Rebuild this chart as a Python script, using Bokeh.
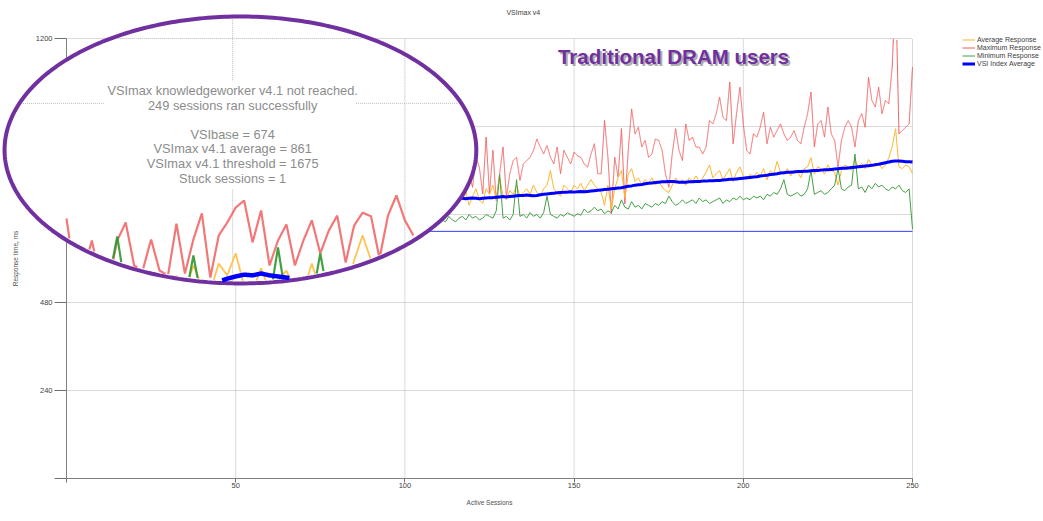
import numpy as np
from bokeh.plotting import figure
from bokeh.models import (FixedTicker, Legend, LegendItem, Label, PolyAnnotation)
from bokeh.embed import file_html
from bokeh.resources import INLINE

# ---------------- data ----------------
sessions = list(range(106, 251))
max_resp = [685, 695, 713, 722, 731, 740, 758, 794, 849, 794, 767,
            813, 776, 831, 794, 876, 849, 776, 931, 776, 895, 758, 831, 904, 767,
            831, 867, 876, 813, 858, 867, 876, 895, 926, 904, 885, 908, 876, 858,
            904, 831, 895, 876, 858, 890, 880, 876, 858, 849, 885, 913, 831, 831,
            976, 876, 722, 876, 822, 954, 749, 895, 1008, 940, 958, 904, 922, 876,
            885, 926, 922, 895, 831, 794, 885, 954, 895, 867, 967, 922, 931, 904,
            904, 885, 904, 976, 967, 995, 1040, 985, 976, 1081, 913, 995, 1067, 967,
            895, 885, 940, 931, 958, 999, 913, 958, 931, 949, 967, 940, 922, 931,
            949, 922, 913, 958, 995, 1054, 904, 967, 976, 931, 1013, 940, 922, 849,
            922, 958, 976, 958, 904, 976, 995, 958, 1094, 1031, 1013, 1067, 995, 1031,
            1022, 1122, 1350, 940, 949, 958, 967, 1122]
avg_resp = [740, 750, 745, 760, 750, 755, 760, 770, 750, 760, 770,
            760, 780, 745, 770, 790, 760, 750, 790, 775, 800, 760, 822, 770, 760,
            785, 775, 800, 770, 780, 790, 775, 800, 780, 770, 790, 800, 840, 790,
            780, 770, 800, 790, 780, 800, 790, 805, 785, 800, 815, 800, 790, 780,
            745, 800, 735, 790, 820, 840, 765, 830, 845, 810, 820, 800, 815, 805,
            820, 800, 810, 795, 785, 780, 800, 820, 805, 815, 800, 820, 810, 825,
            810, 820, 835, 855, 820, 830, 840, 815, 830, 845, 810, 835, 850, 825,
            815, 830, 820, 835, 825, 845, 815, 840, 830, 865, 835, 830, 845, 825,
            840, 835, 820, 845, 850, 875, 830, 850, 845, 830, 855, 840, 835, 800,
            840, 855, 850, 840, 870, 850, 860, 845, 870, 855, 850, 860, 845, 855,
            875, 905, 954, 850, 845, 855, 850, 832]
min_resp = [700, 705, 695, 700, 710, 705, 700, 715, 705, 700, 710,
            715, 705, 720, 710, 715, 705, 710, 720, 715, 710, 730, 830, 710, 715,
            705, 720, 815, 715, 720, 710, 725, 715, 720, 710, 725, 770, 720, 715,
            710, 720, 715, 725, 720, 715, 722, 718, 735, 725, 730, 740, 730, 735,
            722, 730, 725, 745, 735, 760, 740, 735, 755, 740, 745, 735, 750, 745,
            740, 750, 745, 755, 750, 770, 755, 745, 750, 760, 750, 755, 760, 750,
            765, 755, 760, 750, 755, 760, 765, 750, 760, 755, 765, 760, 770, 760,
            765, 760, 770, 765, 770, 760, 775, 770, 780, 775, 790, 815, 775, 770,
            775, 780, 770, 775, 790, 840, 775, 780, 785, 775, 780, 790, 800, 845,
            790, 785, 795, 800, 885, 790, 795, 780, 800, 790, 805, 795, 800, 790,
            785, 795, 790, 800, 785, 780, 790, 680]
vsi_index_avg = [758, 759, 760, 760, 761, 762, 762, 763, 763, 764, 764,
                 764, 763, 764, 765, 764, 763, 764, 765,
                 766, 766, 767, 768, 769, 768, 769, 770, 771, 772,
                 772, 773, 772, 771, 772, 774, 775, 776, 777, 778, 779, 780,
                 781, 781, 782, 781, 782, 783, 782, 783,
                 784, 785, 786, 787, 788, 789, 790, 791, 792, 793,
                 795, 797, 798, 800, 801, 802, 804, 805,
                 806, 807, 808, 809, 809, 810,
                 810, 809, 808, 808, 808,
                 809, 809, 810, 810, 811, 811, 812, 812, 813, 813,
                 814, 815, 816, 816, 817, 818, 819, 820, 821, 822,
                 823, 825, 826, 827, 829, 830, 831, 833,
                 834, 835, 835, 836, 837, 837, 838,
                 838, 839, 840, 840, 841, 842, 842, 843, 844, 845,
                 846, 846, 847, 848, 849, 850, 851, 852, 853, 854,
                 856, 857, 859, 861, 863, 865,
                 866, 866, 865, 864, 864, 863]
vsi_base = 674

# magnified inset (drawn inside the ellipse), values on the main axis scale
inset_sessions = [0, 2.5, 5, 7.5, 10, 12.5, 15, 17.5, 20, 22.5, 25, 27.5, 30, 32.5,
                  35, 37.5, 40, 42.5, 45, 47.5, 50, 52.5, 55, 57.5, 60, 62.5, 65,
                  67.5, 70, 72.5, 75, 77.5, 80, 82.5, 85, 87.5, 90, 92.5, 95, 97.5,
                  100, 102.5]
inset_max = [709, 554, 567, 649, 540, 540, 649, 698, 581, 567, 652, 567, 554, 695,
             559, 652, 723, 548, 663, 698, 739, 758, 644, 731, 581, 649, 693, 581,
             649, 704, 614, 676, 717, 589, 690, 725, 715, 600, 717, 772, 704, 663]
inset_avg = [513, 513, 513, 513, 513, 513, 540, 526, 513, 513, 513, 513, 513, 554,
             513, 581, 526, 513, 586, 554, 614, 526, 513, 573, 513, 540, 567, 513,
             513, 586, 513, 513, 513, 513, 595, 663, 595, 513, 513, 513, 513, 513]
inset_min = [485, 485, 485, 485, 485, 540, 660, 513, 485, 485, 485, 485, 485, 485,
             485, 608, 485, 485, 485, 485, 485, 485, 485, 485, 485, 630, 485, 485,
             485, 485, 614, 485, 485, 485, 485, 485, 485, 485, 485, 485, 485, 485]
inset_index = [524] * 18 + [537, 545, 551, 556, 554, 559, 554, 551, 548, 545, 540, 535] + [529] * 12
inset_grid_x = [49.1, 100]
inset_grid_y = [1023, 1200]

x_ticks = [0, 50, 100, 150, 200, 250]
y_ticks = [0, 240, 480, 720, 960, 1200]

info_lines = ["VSImax knowledgeworker v4.1 not reached.", "249 sessions ran successfully", "",
              "VSIbase = 674", "VSImax v4.1 average = 861", "VSImax v4.1 threshold = 1675",
              "Stuck sessions = 1"]

assert len(sessions) == len(max_resp) == len(avg_resp) == len(min_resp) == len(vsi_index_avg)
assert len(inset_sessions) == len(inset_max) == len(inset_avg) == len(inset_min) == len(inset_index)

# ---------------- styling constants ----------------
FONT = "Liberation Sans"
RED, ORANGE, GREEN, BLUE = "#f05a5a", "#ffb52e", "#44a044", "#0000ff"
PURPLE = "#7030a0"
GRID = "#b4b4b4"
ELL_CX, ELL_CY, ELL_A, ELL_B = 51.4, 896.0, 69.7, 364.0
A_IN, B_IN = 69.0, 357.0
W, H = 1043, 521
X_VIEW = (-19.50, 288.71)     # frame spans the whole canvas so the magnifier can leave the axes
Y_VIEW = (-117.27, 1303.6)

p = figure(width=W, height=H, output_backend="svg", toolbar_location=None, title=None,
           x_range=X_VIEW, y_range=Y_VIEW, min_border=0)
p.outline_line_color = None
p.background_fill_color = "white"
p.border_fill_color = "white"
p.grid.visible = False

# axes drawn at the data origin
p.xaxis.ticker = FixedTicker(ticks=x_ticks)
p.yaxis.ticker = FixedTicker(ticks=y_ticks)
p.xaxis.fixed_location = 0
p.yaxis.fixed_location = 0
p.xaxis.bounds = (x_ticks[0], x_ticks[-1])
p.yaxis.bounds = (y_ticks[0], y_ticks[-1])
p.xaxis.major_label_overrides = {0: ""}
p.yaxis.major_label_overrides = {0: ""}
for ax in (p.xaxis, p.yaxis):
    ax.axis_line_color = "#808080"
    ax.major_tick_line_color = "#707070"
    ax.minor_tick_line_color = None
    ax.major_tick_in = 0
    ax.major_label_text_font = FONT
    ax.major_label_text_font_size = "7.5px"
    ax.major_label_text_color = "#404040"
    ax.axis_label_text_font = FONT
    ax.axis_label_text_font_size = "6.5px"
    ax.axis_label_text_font_style = "normal"
    ax.axis_label_text_color = "#505050"
p.xaxis.major_tick_out = 4
p.yaxis.major_tick_out = 12
p.xaxis.major_label_standoff = 1
p.yaxis.major_label_standoff = 2
p.xaxis.axis_label = "Active Sessions"
p.yaxis.axis_label = "Response time, ms"
p.xaxis.axis_label_standoff = 7
p.yaxis.axis_label_standoff = 14

# dotted grid, bounded to the data area
hy = y_ticks[1:]
vx = x_ticks[1:]
p.segment(x0=[x_ticks[0]] * len(hy), y0=hy, x1=[x_ticks[-1]] * len(hy), y1=hy,
          line_color=GRID, line_dash="1 1", line_width=1, level="underlay")
p.segment(x0=vx, y0=[y_ticks[0]] * len(vx), x1=vx, y1=[y_ticks[-1]] * len(vx),
          line_color=GRID, line_dash="1 1", line_width=1, level="underlay")


def densify(xs, ys, n):
    xs = np.asarray(xs, float)
    ys = np.asarray(ys, float)
    fx, fy = [xs[0]], [ys[0]]
    tt = np.linspace(0, 1, n + 1)[1:]
    for i in range(len(xs) - 1):
        fx.extend(xs[i] + (xs[i + 1] - xs[i]) * tt)
        fy.extend(ys[i] + (ys[i + 1] - ys[i]) * tt)
    return np.array(fx), np.array(fy)


def clip_top(xs, ys, top, n=80):
    fx, fy = densify(xs, ys, n)
    return fx, np.where(fy <= top, fy, np.nan)


def clip_inside(xs, ys, n=40, gap_x=None, gap_y=None):
    fx, fy = densify(xs, ys, n)
    keep = ((fx - ELL_CX) / A_IN) ** 2 + ((fy - ELL_CY) / B_IN) ** 2 <= 1
    if gap_x is not None:
        keep &= ~((fx > gap_x[0]) & (fx < gap_x[1]))
    if gap_y is not None:
        keep &= ~((fy > gap_y[0]) & (fy < gap_y[1]))
    return fx, np.where(keep, fy, np.nan)


# main series (clipped at the top of the value axis like the original chart)
mx, my = clip_top(sessions, max_resp, y_ticks[-1])
r_max = p.line(mx, my, line_color=RED, line_width=1)
r_avg = p.line(sessions, avg_resp, line_color=ORANGE, line_width=1)
r_min = p.line(sessions, min_resp, line_color=GREEN, line_width=1)
r_idx = p.line(sessions, vsi_index_avg, line_color=BLUE, line_width=3)
p.segment(x0=[x_ticks[0]], y0=[vsi_base], x1=[x_ticks[-1]], y1=[vsi_base],
          line_color="#3a3aff", line_width=1)

# magnifier ellipse
t = np.linspace(0, 2 * np.pi, 361)
ell = PolyAnnotation(xs=list(ELL_CX + ELL_A * np.cos(t)), ys=list(ELL_CY + ELL_B * np.sin(t)),
                     fill_color="white", fill_alpha=1.0, line_color=PURPLE, line_alpha=1.0,
                     line_width=4, level="annotation")
p.add_layout(ell)

# inset grid
for gx in inset_grid_x:
    gy = (790, 1085) if gx < 60 else None
    xx, yy = clip_inside([gx, gx], [400, 1300], n=400, gap_y=gy)
    p.line(xx, yy, line_color=GRID, line_dash="1 1", line_width=1, level="overlay")
for gyv in inset_grid_y:
    gxg = (11.5, 85.4) if gyv < 1100 else None
    xx, yy = clip_inside([-25, 130], [gyv, gyv], n=600, gap_x=gxg)
    p.line(xx, yy, line_color=GRID, line_dash="1 1", line_width=1, level="overlay")

# inset (magnified) series
for ys_, col, w, a in ((inset_max, "#f06060", 2.2, 0.85), (inset_avg, "#ffbe3c", 1.8, 0.9),
                       (inset_min, "#2f962f", 2.2, 0.9), (inset_index, BLUE, 4.5, 1.0)):
    xx, yy = clip_inside(inset_sessions, ys_)
    p.line(xx, yy, line_color=col, line_width=w, line_alpha=a, level="overlay")

# texts
INFO_X, INFO_Y0, INFO_DY = 49.1, 1058.0, 39.8
for i, line in enumerate(info_lines):
    if line:
        p.add_layout(Label(x=INFO_X, y=INFO_Y0 - i * INFO_DY, text=line, text_align="center",
                           text_baseline="middle", text_font=FONT, text_font_size="12.8px",
                           text_color="#8c8c8c", level="overlay"))
p.add_layout(Label(x=135.0, y=1270.0, text="VSImax v4", text_align="center",
                   text_baseline="middle", text_font=FONT, text_font_size="7px",
                   text_color="#404040", level="overlay"))
p.add_layout(Label(x=179.4, y=1151, x_offset=2, y_offset=-2, text="Traditional DRAM users",
                   text_align="center", text_baseline="middle", text_font=FONT,
                   text_font_size="20.5px", text_font_style="bold", text_color="#8a8a8a",
                   text_alpha=0.7, level="overlay"))
p.add_layout(Label(x=179.4, y=1151, text="Traditional DRAM users",
                   text_align="center", text_baseline="middle", text_font=FONT,
                   text_font_size="20.5px", text_font_style="bold", text_color=PURPLE,
                   level="overlay"))

legend = Legend(items=[LegendItem(label="Average Response", renderers=[r_avg]),
                       LegendItem(label="Maximum Response", renderers=[r_max]),
                       LegendItem(label="Minimum Response", renderers=[r_min]),
                       LegendItem(label="VSI Index Average", renderers=[r_idx])],
                location=(962, 454), orientation="vertical",
                label_text_font=FONT, label_text_font_size="7px", label_text_color="#404040",
                glyph_width=13, glyph_height=7, label_height=7, label_standoff=2,
                spacing=1, padding=0, margin=0, border_line_color=None,
                background_fill_alpha=0)
p.add_layout(legend)

open("out.html", "w").write(file_html(p, INLINE))
